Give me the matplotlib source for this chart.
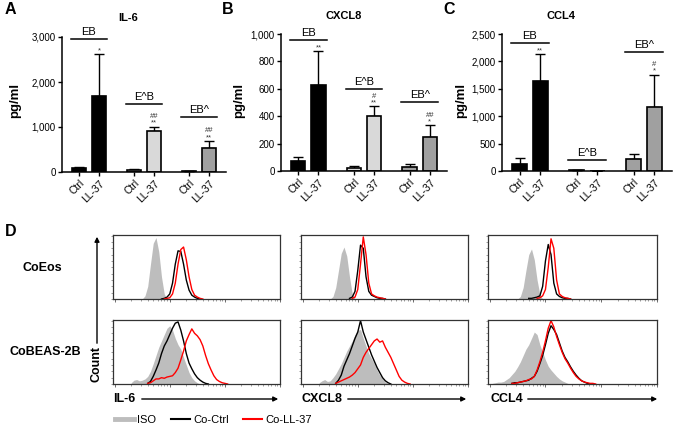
import matplotlib
matplotlib.use('Agg')
import matplotlib.pyplot as plt
from matplotlib.lines import Line2D
from matplotlib.patches import FancyArrowPatch
from matplotlib.ticker import FuncFormatter, LogLocator, NullFormatter, MultipleLocator
import numpy as np

plt.rcParams['font.family'] = ['Liberation Sans', 'DejaVu Sans']

W, H = 675, 426

# ---- panels A-C: cytokines in supernatant, mean + SD (pg/ml)
bar_labels = ['Ctrl', 'LL-37', 'Ctrl', 'LL-37', 'Ctrl', 'LL-37']
groups = ['EB', 'E^B', 'EB^']

il6_mean = [90, 1690, 55, 915, 20, 530]
il6_sd = [15, 930, 15, 90, 8, 160]
cxcl8_mean = [75, 627, 24, 405, 32, 251]
cxcl8_sd = [28, 246, 10, 66, 22, 82]
ccl4_mean = [125, 1650, 10, 0, 222, 1160]
ccl4_sd = [110, 480, 5, 0, 80, 600]

il6_bracket = [2960, 1510, 1215]
cxcl8_bracket = [955, 595, 505]
ccl4_bracket = [2335, 195, 2165]

il6_marks = ['*', '##\n**', '##\n**']
cxcl8_marks = ['**', '#\n**', '##\n*']
ccl4_marks = ['**', '', '#\n*']

# ---- panel D: flow cytometry histograms, log10 start of first bin + heights (% of max)
STEP = 0.05
il6_eos_iso = (2.50, [0, 5, 20, 55, 88, 97, 75, 35, 8, 0])
il6_eos_ctrl = (2.85, [0, 1, 3, 8, 25, 55, 76, 75, 55, 30, 14, 6, 3, 1, 0])
il6_eos_ll37 = (2.90, [0, 1, 2, 8, 25, 55, 78, 82, 62, 35, 15, 6, 3, 1, 0])
il6_beas_iso = (2.30, [2, 6, 7, 5, 6, 8, 12, 20, 32, 45, 58, 68, 78, 88, 92, 85, 72, 62, 55, 42, 30, 18, 10, 5, 2, 0])
il6_beas_ctrl = (2.60, [1, 4, 12, 22, 33, 48, 60, 68, 78, 88, 96, 98, 85, 68, 48, 33, 24, 16, 10, 6, 3, 1, 0])
il6_beas_ll37 = (2.60, [1, 2, 5, 8, 8, 10, 9, 11, 12, 13, 18, 25, 38, 52, 68, 78, 87, 80, 76, 70, 60, 45, 32, 22, 13, 7, 4, 2, 1, 0])
cxcl8_eos_iso = (2.50, [0, 4, 18, 45, 72, 82, 68, 35, 8, 0])
cxcl8_eos_ctrl = (2.85, [1, 3, 12, 45, 85, 80, 35, 12, 6, 4, 2, 1, 1, 0])
cxcl8_eos_ll37 = (2.90, [1, 3, 15, 55, 98, 70, 25, 8, 5, 3, 2, 1, 0])
cxcl8_beas_iso = (2.30, [2, 5, 7, 4, 5, 10, 16, 24, 32, 42, 52, 60, 68, 78, 85, 86, 72, 60, 48, 40, 32, 22, 14, 8, 3, 1, 0])
cxcl8_beas_ctrl = (2.60, [1, 6, 14, 28, 38, 48, 60, 72, 82, 100, 82, 70, 58, 46, 36, 26, 18, 10, 5, 2, 0])
cxcl8_beas_ll37 = (2.60, [1, 3, 5, 7, 9, 11, 14, 18, 24, 30, 42, 50, 56, 62, 68, 71, 66, 68, 58, 50, 42, 32, 22, 12, 6, 3, 1, 0])
ccl4_eos_iso = (2.50, [0, 4, 18, 45, 70, 79, 62, 30, 7, 0])
ccl4_eos_ctrl = (2.70, [1, 1, 2, 3, 5, 20, 60, 86, 70, 25, 8, 4, 2, 1, 1, 0])
ccl4_eos_ll37 = (2.85, [1, 2, 5, 15, 50, 95, 80, 30, 8, 4, 2, 1, 0])
ccl4_beas_iso = (2.05, [1, 2, 3, 3, 4, 7, 10, 15, 20, 27, 35, 45, 55, 62, 72, 82, 78, 62, 50, 38, 28, 22, 17, 12, 8, 5, 3, 1, 0])
ccl4_beas_ctrl = (2.40, [1, 2, 2, 3, 4, 5, 6, 9, 12, 20, 32, 45, 62, 80, 92, 86, 78, 65, 52, 42, 35, 27, 20, 14, 9, 5, 3, 1, 0])
ccl4_beas_ll37 = (2.40, [1, 1, 2, 3, 4, 5, 7, 8, 12, 22, 35, 50, 68, 88, 100, 90, 75, 62, 50, 40, 33, 25, 18, 12, 8, 5, 3, 2, 1, 1, 0])


def box(left, top, right, bottom):
    return [left / W, 1 - bottom / H, (right - left) / W, (bottom - top) / H]


def fx(px):
    return px / W


def fy(py):
    return 1 - py / H


fig = plt.figure(figsize=(W / 100, H / 100), dpi=100)

bar_x = np.array([0, 1, 2.75, 3.75, 5.5, 6.5])
bar_colors = ['black', 'black', '#d9d9d9', '#d9d9d9', '#a0a0a0', '#a0a0a0']

panels = [
    ('A', 'IL-6', box(62, 37, 226, 172), 3000, 1000, il6_mean, il6_sd, il6_bracket, il6_marks, (5, 10), (128, 18), 15),
    ('B', 'CXCL8', box(281, 34, 447, 171), 1000, 200, cxcl8_mean, cxcl8_sd, cxcl8_bracket, cxcl8_marks, (222, 10), (344, 16), 239),
    ('C', 'CCL4', box(502, 34, 672, 171), 2500, 500, ccl4_mean, ccl4_sd, ccl4_bracket, ccl4_marks, (443, 10), (561, 16), 461),
]

for letter, title, rect, ymax, ystep, mean, sd, bracket, marks, lpos, tpos, ylab_x in panels:
    ax = fig.add_axes(rect)
    ax.bar(bar_x, mean, width=0.7, color=bar_colors, edgecolor='black', linewidth=1.2, zorder=2)
    ax.errorbar(bar_x, mean, yerr=[np.zeros(6), sd], fmt='none', ecolor='black',
                elinewidth=1.0, capsize=3.5, capthick=1.0, zorder=1)
    for g in range(3):
        x0 = bar_x[2 * g] - 0.4
        x1 = bar_x[2 * g + 1] + 0.4
        ax.plot([x0, x1], [bracket[g], bracket[g]], color='black', lw=1.1, clip_on=False)
        ax.annotate(groups[g], xy=((x0 + x1) / 2, bracket[g]), xytext=(0, 1.5),
                    textcoords='offset points', ha='center', va='bottom', fontsize=8,
                    annotation_clip=False)
        top = mean[2 * g + 1] + sd[2 * g + 1]
        if marks[g]:
            ax.annotate(marks[g], xy=(bar_x[2 * g + 1], top), xytext=(0, 0),
                        textcoords='offset points', ha='center', va='bottom', fontsize=5.5,
                        color='#333333', linespacing=0.9, annotation_clip=False)
    ax.set_xlim(-0.85, 7.35)
    ax.set_ylim(0, ymax)
    ax.yaxis.set_major_locator(MultipleLocator(ystep))
    ax.yaxis.set_major_formatter(FuncFormatter(lambda v, p: f'{v:,.0f}'))
    ax.set_xticks(bar_x)
    ax.set_xticklabels(bar_labels, rotation=45, ha='right', rotation_mode='anchor', fontsize=7.5)
    ax.tick_params(axis='both', length=3, width=1.0, labelsize=7, pad=1.5)
    ax.tick_params(axis='x', labelsize=7.5)
    for s in ['top', 'right']:
        ax.spines[s].set_visible(False)
    for s in ['left', 'bottom']:
        ax.spines[s].set_linewidth(1.1)
    fig.text(fx(lpos[0]), fy(lpos[1]), letter, fontsize=11.5, fontweight='bold', ha='left', va='center')
    fig.text(fx(tpos[0]), fy(tpos[1]), title, fontsize=8, fontweight='bold', ha='center', va='center')
    fig.text(fx(ylab_x), fy(100), 'pg/ml', fontsize=9.5, fontweight='bold', rotation=90,
             ha='center', va='center')

# ---- panel D
cols = [(113, 280), (301, 468), (488, 657)]
rows = [(235, 299), (320, 384)]
hists = [
    [(il6_eos_iso, il6_eos_ctrl, il6_eos_ll37), (cxcl8_eos_iso, cxcl8_eos_ctrl, cxcl8_eos_ll37),
     (ccl4_eos_iso, ccl4_eos_ctrl, ccl4_eos_ll37)],
    [(il6_beas_iso, il6_beas_ctrl, il6_beas_ll37), (cxcl8_beas_iso, cxcl8_beas_ctrl, cxcl8_beas_ll37),
     (ccl4_beas_iso, ccl4_beas_ctrl, ccl4_beas_ll37)],
]


def xy(curve):
    start, vals = curve
    return 10 ** (start + STEP * np.arange(len(vals))), np.array(vals)


for r, (top, bottom) in enumerate(rows):
    for c, (left, right) in enumerate(cols):
        ax = fig.add_axes(box(left, top, right, bottom))
        iso, ctrl, ll37 = hists[r][c]
        x, y = xy(iso)
        ax.fill_between(x, 0, y, color='#bdbdbd', lw=0)
        x, y = xy(ctrl)
        ax.plot(x, y, color='black', lw=1.0)
        x, y = xy(ll37)
        ax.plot(x, y, color='red', lw=1.0)
        ax.set_xscale('log')
        ax.set_xlim(10 ** 1.97, 1e5)
        ax.set_ylim(0, 101)
        ax.xaxis.set_major_locator(LogLocator(base=10))
        ax.xaxis.set_minor_locator(LogLocator(base=10, subs=np.arange(2, 10)))
        ax.xaxis.set_major_formatter(NullFormatter())
        ax.xaxis.set_minor_formatter(NullFormatter())
        ax.yaxis.set_major_locator(MultipleLocator(10))
        ax.yaxis.set_major_formatter(NullFormatter())
        ax.tick_params(axis='x', which='major', length=2.5, width=0.6, color='#555555')
        ax.tick_params(axis='x', which='minor', length=1.3, width=0.5, color='#777777')
        ax.tick_params(axis='y', length=1.3, width=0.5, color='#777777')
        for s in ax.spines.values():
            s.set_linewidth(0.9)
            s.set_color('#333333')

fig.text(fx(5), fy(232), 'D', fontsize=11.5, fontweight='bold', ha='left', va='center')
fig.text(fx(42), fy(268), 'CoEos', fontsize=9, fontweight='bold', ha='center', va='center')
fig.text(fx(45), fy(352), 'CoBEAS-2B', fontsize=9, fontweight='bold', ha='center', va='center')

arrow = dict(arrowstyle='-|>', color='black', lw=1.0, mutation_scale=7)
fig.text(fx(97), fy(364), 'Count', fontsize=9, fontweight='bold', rotation=90, ha='center', va='center')
fig.add_artist(FancyArrowPatch((fx(97), fy(346)), (fx(97), fy(234)),
                               transform=fig.transFigure, **arrow))
for name, left, right, arrow_start in [('IL-6', 113, 281, 139), ('CXCL8', 301, 469, 345), ('CCL4', 490, 660, 525)]:
    fig.text(fx(left), fy(399), name, fontsize=9, fontweight='bold', ha='left', va='center')
    fig.add_artist(FancyArrowPatch((fx(arrow_start), fy(399)), (fx(right), fy(399)),
                                   transform=fig.transFigure, **arrow))

handles = [Line2D([], [], color='#bdbdbd', lw=3.5), Line2D([], [], color='black', lw=1.5),
           Line2D([], [], color='red', lw=1.5)]
fig.legend(handles, ['ISO', 'Co-Ctrl', 'Co-LL-37'], loc='center left', bbox_to_anchor=(fx(115), fy(420)),
           ncol=3, frameon=False, fontsize=8, handlelength=1.7, handletextpad=0.3,
           columnspacing=1.3, borderaxespad=0, borderpad=0)

fig.savefig('out.png', dpi=100)
